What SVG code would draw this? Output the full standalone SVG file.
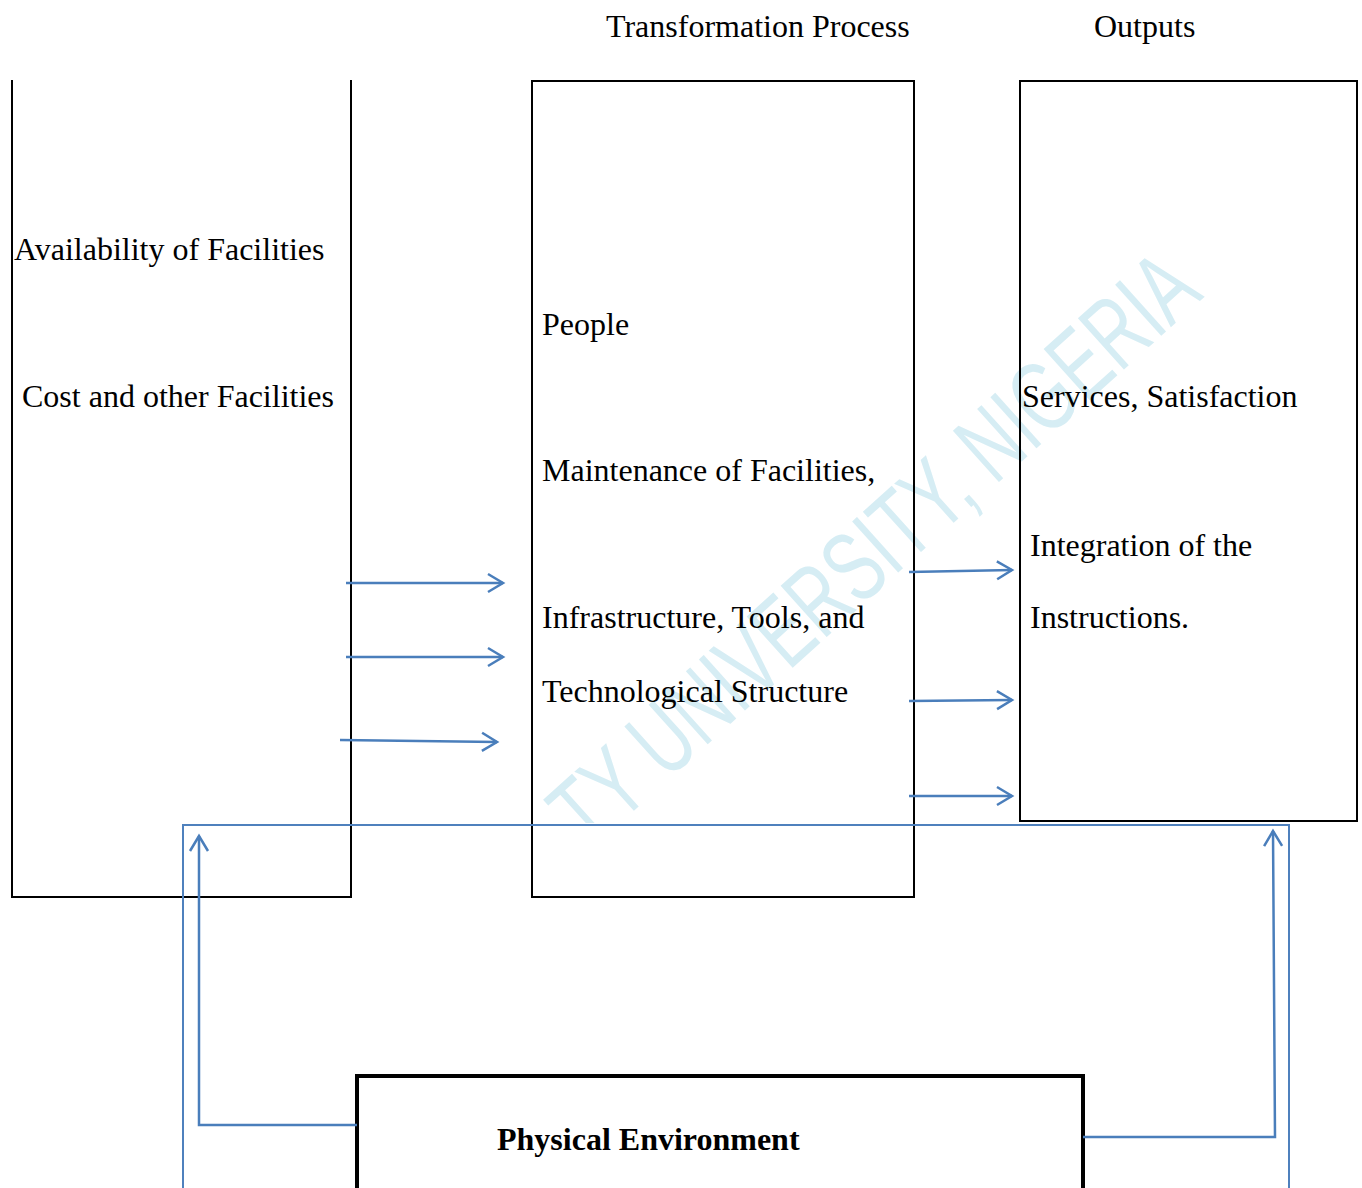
<svg xmlns="http://www.w3.org/2000/svg" width="1362" height="1188" viewBox="0 0 1362 1188">
<style>
.t{font-family:"Liberation Serif","Times New Roman",serif;font-size:32px;fill:#000}
.b{font-weight:bold}
.box{fill:none;stroke:#000;stroke-width:2}
.blue{fill:none;stroke:#4f81bd;stroke-width:2}
.arr{fill:none;stroke:#4a7ebb;stroke-width:2.5;marker-end:url(#ah)}
.wm{font-family:"Liberation Sans",Arial,sans-serif;font-size:100px;fill:#d6edf4}
</style>
<defs>
<marker id="ah" markerUnits="userSpaceOnUse" markerWidth="24" markerHeight="24" refX="18" refY="10" orient="auto" viewBox="0 0 24 20">
<path d="M3,1 L18,10 L3,19" fill="none" stroke="#4a7ebb" stroke-width="2.5"/>
</marker>
<clipPath id="wc"><rect x="0" y="0" width="1362" height="823"/></clipPath>
</defs>
<rect width="1362" height="1188" fill="#fff"/>
<g id="watermark" clip-path="url(#wc)">
<text class="wm" transform="translate(588,852) rotate(-42)" textLength="830" lengthAdjust="spacingAndGlyphs">TY UNIVERSITY, NIGERIA</text>
</g>
<g id="headers">
<text class="t" x="606" y="37">Transformation Process</text>
<text class="t" x="1094" y="37">Outputs</text>
</g>
<g id="inputs">
<path class="box" d="M12,80 V897 H351 V80"/>
<text class="t" x="14" y="260">Availability of Facilities</text>
<text class="t" x="22" y="407">Cost and other Facilities</text>
</g>
<g id="transformation">
<rect class="box" x="532" y="81" width="382" height="816"/>
<text class="t" x="542" y="335">People</text>
<text class="t" x="542" y="481">Maintenance of Facilities,</text>
<text class="t" x="542" y="628">Infrastructure, Tools, and</text>
<text class="t" x="542" y="702">Technological Structure</text>
</g>
<g id="outputs">
<rect class="box" x="1020" y="81" width="337" height="740" stroke-width="2.5"/>
<text class="t" x="1022" y="407">Services, Satisfaction</text>
<text class="t" x="1030" y="556">Integration of the</text>
<text class="t" x="1030" y="628">Instructions.</text>
</g>
<g id="environment">
<path d="M357,1188 V1076 H1083 V1188" fill="none" stroke="#000" stroke-width="4"/>
<text class="t b" x="497" y="1150">Physical Environment</text>
</g>
<g id="connectors">
<path class="blue" d="M183,1188 V825 H1289 V1188"/>
<path class="arr" d="M357,1125 H199 V836"/>
<path class="arr" d="M1083,1137 H1275 L1273,831"/>
<path class="arr" d="M346,583 H503"/>
<path class="arr" d="M346,657 H503"/>
<path class="arr" d="M340,740 L497,742"/>
<path class="arr" d="M909,572 L1012,570"/>
<path class="arr" d="M909,701 L1012,700"/>
<path class="arr" d="M909,796 H1012"/>
</g>
</svg>
